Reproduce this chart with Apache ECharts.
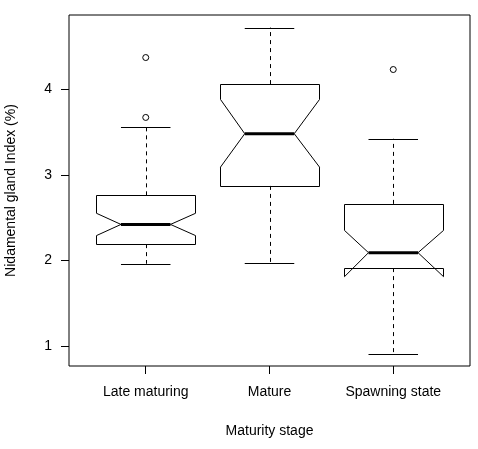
<!DOCTYPE html>
<html>
<head>
<meta charset="utf-8">
<script src="https://cdn.jsdelivr.net/npm/echarts@6/dist/echarts.min.js"></script>
<style>html,body{margin:0;padding:0;background:#fff;}#c{width:478px;height:449px;}</style>
</head>
<body>
<div id="c"></div>
<script>
var categories = ['Late maturing', 'Mature', 'Spawning state'];
var lowerWhisker = [1.96, 1.97, 0.91];
var q1 = [2.19, 2.87, 1.91];
var notchLow = [2.29, 3.09, 1.81];
var median = [2.42, 3.48, 2.09];
var notchHigh = [2.55, 3.88, 2.35];
var q3 = [2.76, 4.06, 2.66];
var upperWhisker = [3.56, 4.72, 3.42];
var outlierCategory = [1, 1, 3];
var outlierValue = [4.37, 3.67, 4.23];
var yTicks = [1, 2, 3, 4];
var xTicks = [1, 2, 3];

var BOX_HALF = 0.4, NOTCH_FRAC = 0.5, STAPLE_HALF = 0.2;
var FONT = "'Liberation Sans', Arial, sans-serif";

var boxData = categories.map(function (c, i) {
  return [i + 1, lowerWhisker[i], q1[i], notchLow[i], median[i], notchHigh[i], q3[i], upperWhisker[i]];
});
var outlierData = outlierCategory.map(function (c, i) { return [c, outlierValue[i]]; });

function px(v) { return Math.round(v) + 0.5; }

var chart = echarts.init(document.getElementById('c'), null, { renderer: 'canvas' });
chart.setOption({
  animation: false,
  backgroundColor: '#fff',
  grid: { left: 69, right: 8, top: 15, bottom: 83, containLabel: false, outerBoundsMode: 'none',
    show: true, borderColor: '#000', borderWidth: 1, backgroundColor: 'transparent' },
  xAxis: {
    type: 'value', min: 0.38, max: 3.62,
    axisLine: { show: false },
    splitLine: { show: false },
    axisTick: { show: true, length: 8, customValues: xTicks, lineStyle: { color: '#000', width: 1 } },
    axisLabel: { customValues: xTicks, margin: 19, color: '#000', fontSize: 14, fontFamily: FONT,
      formatter: function (v) { return categories[Math.round(v) - 1] || ''; } },
    name: 'Maturity stage', nameLocation: 'middle', nameGap: 58,
    nameTextStyle: { color: '#000', fontSize: 14, fontFamily: FONT }
  },
  yAxis: {
    type: 'value', min: 0.766, max: 4.867,
    axisLine: { show: false },
    splitLine: { show: false },
    axisTick: { show: true, length: 8, customValues: yTicks, lineStyle: { color: '#000', width: 1 } },
    axisLabel: { customValues: yTicks, margin: 17, color: '#000', fontSize: 14, fontFamily: FONT },
    name: 'Nidamental gland Index (%)', nameLocation: 'middle', nameGap: 51,
    nameTextStyle: { color: '#000', fontSize: 14, fontFamily: FONT }
  },
  series: [
    {
      type: 'custom',
      data: boxData,
      encode: { x: 0, y: [1, 2, 3, 4, 5, 6, 7] },
      renderItem: function (params, api) {
        var x = api.value(0);
        var cx = api.coord([x, 0])[0];
        var yWlo = api.coord([x, api.value(1)])[1];
        var yQ1 = api.coord([x, api.value(2)])[1];
        var yCLo = api.coord([x, api.value(3)])[1];
        var yMed = api.coord([x, api.value(4)])[1];
        var yCHi = api.coord([x, api.value(5)])[1];
        var yQ3 = api.coord([x, api.value(6)])[1];
        var yWhi = api.coord([x, api.value(7)])[1];
        var bw = api.size([BOX_HALF, 0])[0];
        var nw = bw * NOTCH_FRAC;
        var sw = api.size([STAPLE_HALF, 0])[0];
        var xl = px(cx - bw), xr = px(cx + bw), xc = px(cx);
        var stroke = { stroke: '#000', lineWidth: 1, fill: null };
        var dashed = { stroke: '#000', lineWidth: 1, lineDash: [4, 4] };
        return {
          type: 'group',
          children: [
            { type: 'line', shape: { x1: xc, y1: yQ1, x2: xc, y2: yWlo }, style: dashed },
            { type: 'line', shape: { x1: xc, y1: yQ3, x2: xc, y2: yWhi }, style: dashed },
            { type: 'line', shape: { x1: cx - sw, y1: px(yWlo), x2: cx + sw, y2: px(yWlo) }, style: stroke },
            { type: 'line', shape: { x1: cx - sw, y1: px(yWhi), x2: cx + sw, y2: px(yWhi) }, style: stroke },
            { type: 'polygon', shape: { points: [
                [xl, px(yQ1)], [xr, px(yQ1)], [xr, yCLo], [cx + nw, yMed], [xr, yCHi],
                [xr, px(yQ3)], [xl, px(yQ3)], [xl, yCHi], [cx - nw, yMed], [xl, yCLo]
              ] }, style: { stroke: '#000', lineWidth: 1, fill: 'transparent' } },
            { type: 'line', shape: { x1: cx - nw, y1: yMed, x2: cx + nw, y2: yMed }, style: { stroke: '#000', lineWidth: 3 } }
          ]
        };
      }
    },
    {
      type: 'scatter',
      data: outlierData,
      symbol: 'circle',
      symbolSize: 6,
      itemStyle: { color: '#fff', borderColor: '#000', borderWidth: 1, opacity: 1 },
      emphasis: { disabled: true }
    }
  ]
});
</script>
</body>
</html>
